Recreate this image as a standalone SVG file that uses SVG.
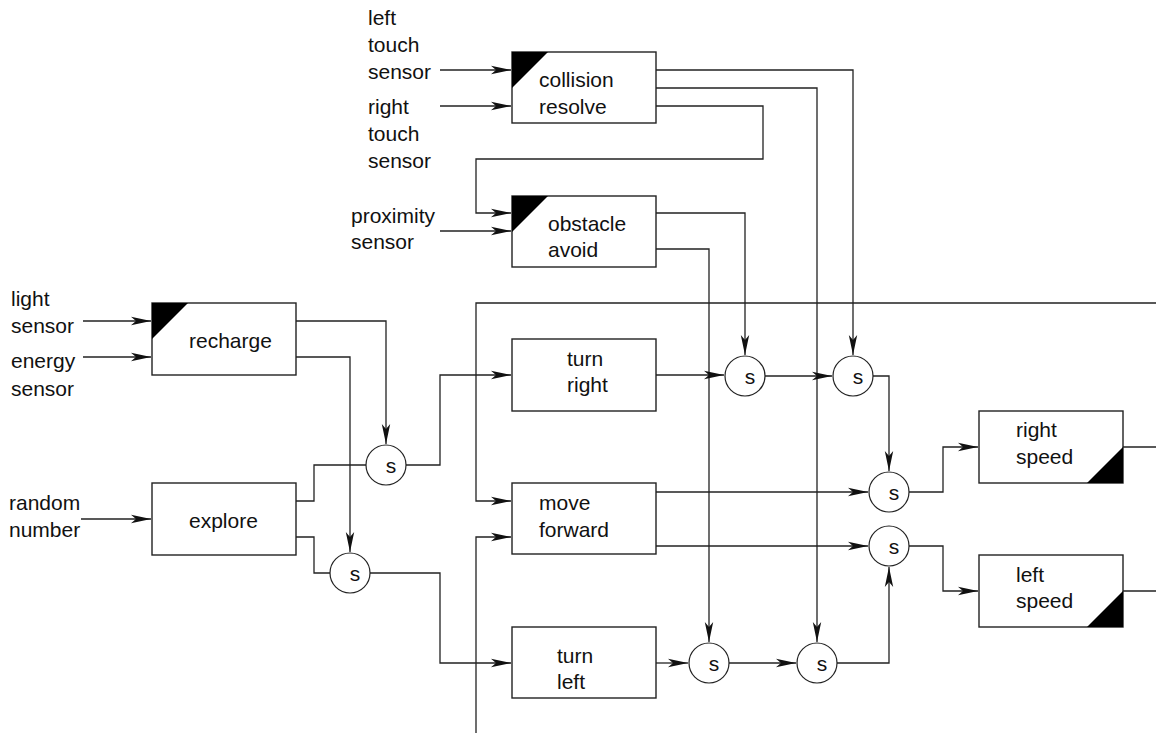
<svg xmlns="http://www.w3.org/2000/svg" width="1156" height="734" viewBox="0 0 1156 734">
<style>
  text { font-family: "Liberation Sans", Arial, Helvetica, sans-serif; font-size: 21px; fill: #111; }
  .s { text-anchor: middle; }
  .box { fill: #fff; stroke: #222; stroke-width: 1.4; }
  .tri { fill: #000; stroke: none; }
  .sum { fill: #fff; stroke: #222; stroke-width: 1.2; }
  .c { fill: none; stroke: #222; stroke-width: 1.3; }
  .a { marker-end: url(#arr); }
</style>
<defs>
  <marker id="arr" markerWidth="22" markerHeight="10" refX="20" refY="5" orient="auto" markerUnits="userSpaceOnUse">
    <path d="M0,0.8 L20,5 L0,9.2 L5,5 Z" fill="#111"/>
  </marker>
</defs>
<rect width="1156" height="734" fill="#fff"/>

<g id="connectors">
  <path class="c a" d="M440,70 H511"/>
  <path class="c a" d="M440,106 H511"/>
  <path class="c a" d="M656,70 H853 V355"/>
  <path class="c a" d="M656,88 H817 V642"/>
  <path class="c a" d="M656,106 H763 V159 H476 V213 H511"/>
  <path class="c a" d="M440,231 H511"/>
  <path class="c a" d="M656,213 H745 V355"/>
  <path class="c a" d="M656,249 H709 V642"/>
  <path class="c a" d="M83,321 H151"/>
  <path class="c a" d="M83,357 H151"/>
  <path class="c a" d="M81,519 H151"/>
  <path class="c a" d="M296,321 H386 V444"/>
  <path class="c a" d="M296,357 H350 V552"/>
  <path class="c" d="M296,501 H314 V465 H366"/>
  <path class="c" d="M296,537 H314 V573 H330"/>
  <path class="c a" d="M406,465 H440 V375 H511"/>
  <path class="c a" d="M370,573 H440 V663 H511"/>
  <path class="c a" d="M1156,303 H476 V501 H511"/>
  <path class="c a" d="M476,733 V537 H511"/>
  <path class="c a" d="M656,375 H724"/>
  <path class="c a" d="M765,376 H832"/>
  <path class="c a" d="M873,376 H889 V471"/>
  <path class="c a" d="M656,492 H868"/>
  <path class="c a" d="M656,546 H868"/>
  <path class="c a" d="M656,663 H688"/>
  <path class="c a" d="M729,663 H796"/>
  <path class="c a" d="M837,663 H889 V567"/>
  <path class="c a" d="M909,492 H943 V447 H978"/>
  <path class="c a" d="M909,546 H943 V591 H978"/>
  <path class="c" d="M1123,447 H1156"/>
  <path class="c" d="M1123,591 H1156"/>
</g>

<g id="label-left-touch">
  <text x="368" y="25">left</text>
  <text x="368" y="52">touch</text>
  <text x="368" y="79">sensor</text>
</g>
<g id="label-right-touch">
  <text x="368" y="114">right</text>
  <text x="368" y="141">touch</text>
  <text x="368" y="168">sensor</text>
</g>
<g id="label-proximity">
  <text x="351" y="223">proximity</text>
  <text x="351" y="249">sensor</text>
</g>
<g id="label-light">
  <text x="11" y="306">light</text>
  <text x="11" y="333">sensor</text>
</g>
<g id="label-energy">
  <text x="11" y="368">energy</text>
  <text x="11" y="396">sensor</text>
</g>
<g id="label-random">
  <text x="9" y="510">random</text>
  <text x="9" y="537">number</text>
</g>

<g id="collision-resolve">
  <rect class="box" x="512" y="52" width="144" height="71"/>
  <path class="tri" d="M512,52 H548 L512,88 Z"/>
  <text x="539" y="87">collision</text>
  <text x="539" y="114">resolve</text>
</g>
<g id="obstacle-avoid">
  <rect class="box" x="512" y="196" width="144" height="71"/>
  <path class="tri" d="M512,196 H548 L512,232 Z"/>
  <text x="548" y="231">obstacle</text>
  <text x="548" y="257">avoid</text>
</g>
<g id="recharge">
  <rect class="box" x="152" y="303" width="144" height="72"/>
  <path class="tri" d="M152,303 H188 L152,339 Z"/>
  <text x="189" y="348">recharge</text>
</g>
<g id="explore">
  <rect class="box" x="152" y="483" width="144" height="72"/>
  <text x="189" y="528">explore</text>
</g>
<g id="turn-right">
  <rect class="box" x="512" y="339" width="144" height="72"/>
  <text x="567" y="366">turn</text>
  <text x="567" y="392">right</text>
</g>
<g id="move-forward">
  <rect class="box" x="512" y="483" width="144" height="71"/>
  <text x="539" y="510">move</text>
  <text x="539" y="537">forward</text>
</g>
<g id="turn-left">
  <rect class="box" x="512" y="627" width="144" height="71"/>
  <text x="557" y="663">turn</text>
  <text x="557" y="689">left</text>
</g>
<g id="right-speed">
  <rect class="box" x="979" y="411" width="144" height="72"/>
  <path class="tri" d="M1123,447 V483 H1087 Z"/>
  <text x="1016" y="437">right</text>
  <text x="1016" y="464">speed</text>
</g>
<g id="left-speed">
  <rect class="box" x="979" y="555" width="144" height="72"/>
  <path class="tri" d="M1123,591 V627 H1087 Z"/>
  <text x="1016" y="582">left</text>
  <text x="1016" y="608">speed</text>
</g>

<g id="s-a"><circle class="sum" cx="386" cy="465" r="20"/><text class="s" x="391" y="473">s</text></g>
<g id="s-b"><circle class="sum" cx="350" cy="573" r="20"/><text class="s" x="355" y="581">s</text></g>
<g id="s-1"><circle class="sum" cx="745" cy="376" r="20"/><text class="s" x="750" y="384">s</text></g>
<g id="s-2"><circle class="sum" cx="853" cy="376" r="20"/><text class="s" x="858" y="384">s</text></g>
<g id="s-3"><circle class="sum" cx="889" cy="492" r="20"/><text class="s" x="894" y="500">s</text></g>
<g id="s-4"><circle class="sum" cx="889" cy="546" r="20"/><text class="s" x="894" y="554">s</text></g>
<g id="s-5"><circle class="sum" cx="709" cy="663" r="20"/><text class="s" x="714" y="671">s</text></g>
<g id="s-6"><circle class="sum" cx="817" cy="663" r="20"/><text class="s" x="822" y="671">s</text></g>
</svg>
